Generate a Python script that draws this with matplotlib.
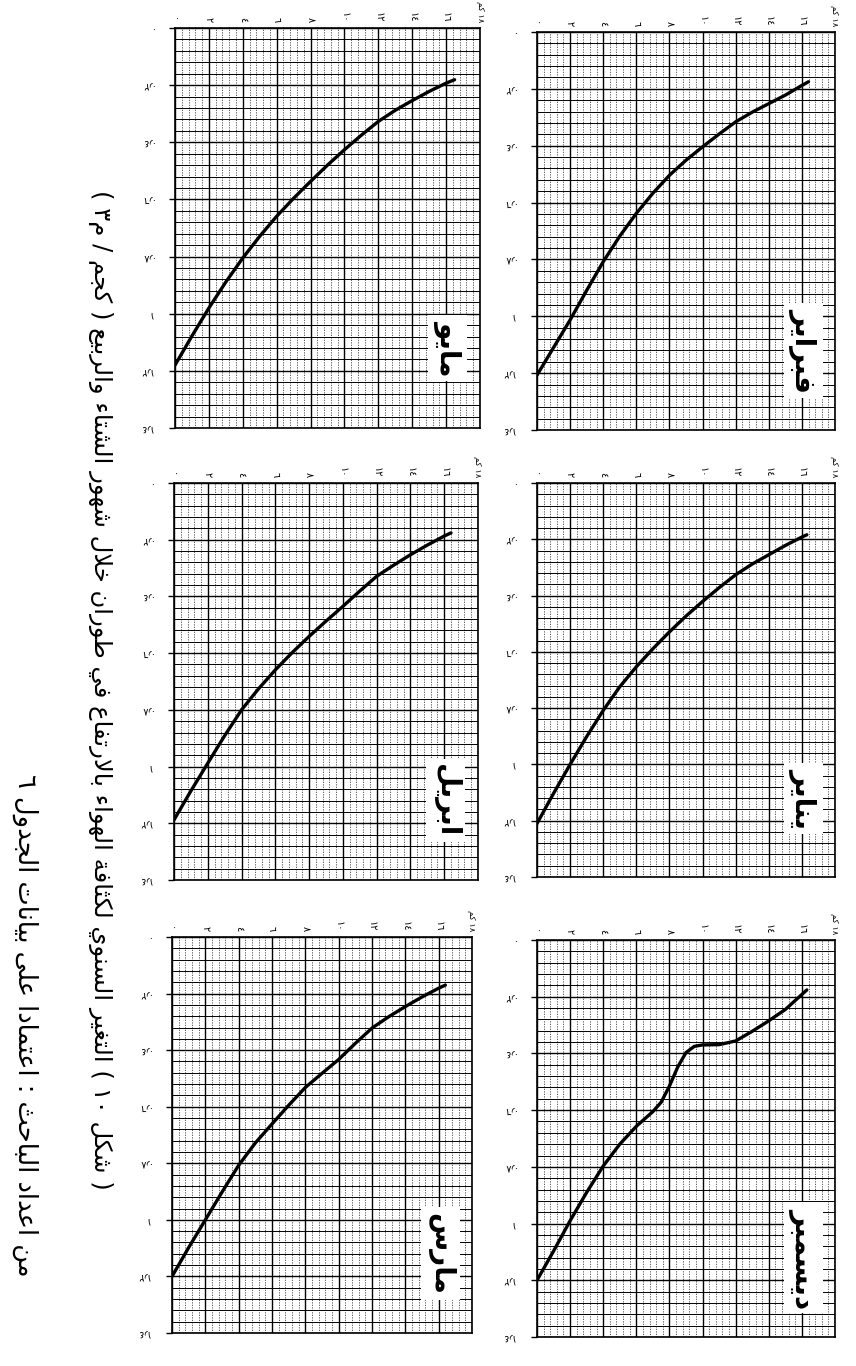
import matplotlib
matplotlib.use("Agg")
from matplotlib import pyplot as plt
from matplotlib.ticker import MultipleLocator

# Arabic shaping (presentation forms) so matplotlib draws joined letters
DUAL = {'ب': 0xFE8F, 'ت': 0xFE95, 'ث': 0xFE99, 'ج': 0xFE9D, 'ح': 0xFEA1, 'خ': 0xFEA5,
        'س': 0xFEB1, 'ش': 0xFEB5, 'ص': 0xFEB9, 'ض': 0xFEBD, 'ط': 0xFEC1, 'ظ': 0xFEC5,
        'ع': 0xFEC9, 'غ': 0xFECD, 'ف': 0xFED1, 'ق': 0xFED5, 'ك': 0xFED9, 'ل': 0xFEDD,
        'م': 0xFEE1, 'ن': 0xFEE5, 'ه': 0xFEE9, 'ي': 0xFEF1}
RIGHT = {'ا': 0xFE8D, 'أ': 0xFE83, 'إ': 0xFE87, 'آ': 0xFE81, 'ة': 0xFE93, 'د': 0xFEA9,
         'ذ': 0xFEAB, 'ر': 0xFEAD, 'ز': 0xFEAF, 'و': 0xFEED, 'ى': 0xFEEF}
LAM_ALEF = {'ا': 0xFEFB, 'أ': 0xFEF7, 'إ': 0xFEF9, 'آ': 0xFEF5}
DIGITS = set('٠١٢٣٤٥٦٧٨٩0123456789٫')


def shape(text):
    out = []
    i = 0
    while i < len(text):
        c = text[i]
        link_prev = i > 0 and text[i - 1] in DUAL
        if c == 'ل' and i + 1 < len(text) and text[i + 1] in LAM_ALEF:
            out.append(chr(LAM_ALEF[text[i + 1]] + (1 if link_prev else 0)))
            i += 2
            continue
        nxt = text[i + 1] if i + 1 < len(text) else ''
        if c in DUAL:
            link_next = nxt in DUAL or nxt in RIGHT
            out.append(chr(DUAL[c] + int(link_prev) + 2 * int(link_next)))
        elif c in RIGHT:
            out.append(chr(RIGHT[c] + (1 if link_prev else 0)))
        else:
            out.append(c)
        i += 1
    # visual order: reverse, keep digit runs left-to-right, mirror brackets
    runs = []
    for ch in out:
        isd = ch in DIGITS
        if runs and runs[-1][0] == isd:
            runs[-1][1].append(ch)
        else:
            runs.append([isd, [ch]])
    vis = ''
    for isd, chars in reversed(runs):
        if isd:
            vis += ''.join(chars)
        else:
            vis += ''.join({'(': ')', ')': '('}.get(ch, ch) for ch in reversed(chars))
    return vis


# Data: air density (kg/m3) against height (km) for each month
months = ['فبراير', 'يناير', 'ديسمبر', 'مايو', 'ابريل', 'مارس']

feb_alt = [0, 1, 2, 3, 4, 5, 6, 7, 8, 9, 10, 11, 12, 13, 14, 15, 16, 16.4]
feb_rho = [1.207, 1.110, 1.013, 0.909, 0.808, 0.718, 0.638, 0.567, 0.504, 0.451,
           0.404, 0.359, 0.316, 0.282, 0.252, 0.222, 0.188, 0.175]

jan_alt = [0, 1, 2, 3, 4, 5, 6, 7, 8, 9, 10, 11, 12, 13, 14, 15, 16, 16.3]
jan_rho = [1.21, 1.103, 1.0, 0.901, 0.808, 0.724, 0.653, 0.589, 0.529, 0.473,
           0.421, 0.372, 0.326, 0.288, 0.255, 0.222, 0.192, 0.184]

dec_alt = [0, 1, 2, 3, 4, 5, 6, 7, 7.5, 8, 8.5, 9, 9.5, 10, 11, 12, 13, 14, 15, 16, 16.3]
dec_rho = [1.2, 1.097, 0.99, 0.89, 0.797, 0.72, 0.657, 0.605, 0.572, 0.515, 0.448, 0.397,
           0.375, 0.37, 0.369, 0.356, 0.322, 0.285, 0.245, 0.192, 0.176]

may_alt = [0, 1, 2, 3, 4, 5, 6, 7, 8, 9, 10, 11, 12, 13, 14, 15, 16, 16.5]
may_rho = [1.18, 1.078, 0.98, 0.889, 0.805, 0.729, 0.659, 0.596, 0.537, 0.48,
           0.426, 0.375, 0.327, 0.288, 0.254, 0.222, 0.193, 0.181]

apr_alt = [0, 1, 2, 3, 4, 5, 6, 7, 8, 9, 10, 11, 12, 13, 14, 15, 16, 16.4]
apr_rho = [1.188, 1.086, 0.988, 0.891, 0.80, 0.726, 0.659, 0.598, 0.541, 0.487,
           0.435, 0.381, 0.329, 0.29, 0.253, 0.219, 0.187, 0.176]

mar_alt = [0, 1, 2, 3, 4, 5, 6, 7, 8, 9, 10, 11, 12, 13, 14, 15, 16, 16.4]
mar_rho = [1.2, 1.098, 1.0, 0.902, 0.807, 0.728, 0.661, 0.595, 0.532, 0.482,
           0.433, 0.376, 0.322, 0.282, 0.246, 0.212, 0.181, 0.17]

alt_ticks = [0, 2, 4, 6, 8, 10, 12, 14, 16, 18]
alt_labels = ['٠', '٢', '٤', '٦', '٨', '١٠', '١٢', '١٤', '١٦', shape('كم') + ' ١٨']
rho_ticks = [0, 0.2, 0.4, 0.6, 0.8, 1.0, 1.2, 1.4]
rho_labels = ['٠', '٠٫٢', '٠٫٤', '٠٫٦', '٠٫٨', '١', '١٫٢', '١٫٤']

title1 = '( شكل ١٠ ) التغير السنوي لكثافة الهواء بالارتفاع في طوران خلال شهور الشتاء والربيع ( كجم / م٣ )'
title2 = 'من اعداد الباحث : اعتمادا على بيانات الجدول ٦'

plt.rcParams['font.family'] = ['DejaVu Sans']

W, H = 856, 1366
fig = plt.figure(figsize=(W / 100, H / 100), dpi=100)

# panel boxes in pixels: x0, x1, y0, y1
boxes = [(537, 835, 32, 430), (537, 835, 483, 877), (537, 835, 940, 1337),
         (175, 480, 28, 428), (174, 478, 483, 880), (172, 472, 937, 1333)]
series = [(feb_alt, feb_rho), (jan_alt, jan_rho), (dec_alt, dec_rho),
          (may_alt, may_rho), (apr_alt, apr_rho), (mar_alt, mar_rho)]

for (x0, x1, y0, y1), (alt, rho), name in zip(boxes, series, months):
    ax = fig.add_axes([x0 / W, 1 - y1 / H, (x1 - x0) / W, (y1 - y0) / H])
    ax.set_xlim(0, 18)
    ax.set_ylim(1.4, 0)
    ax.xaxis.set_minor_locator(MultipleLocator(0.4))
    ax.yaxis.set_minor_locator(MultipleLocator(0.04))
    ax.grid(which='minor', axis='x', color='#444444', linestyle=(0, (1.5, 1.5)), linewidth=0.6)
    ax.grid(which='minor', axis='y', color='black', linewidth=0.7)
    ax.grid(which='major', color='black', linewidth=1.0)
    ax.xaxis.tick_top()
    ax.set_xticks(alt_ticks)
    ax.set_xticklabels(alt_labels, rotation=-90, fontsize=7)
    ax.get_xticklabels()[-1].set_fontsize(6)
    ax.set_yticks(rho_ticks)
    ax.set_yticklabels(rho_labels, rotation=180, fontsize=7, va='center')
    ax.tick_params(axis='x', length=0, pad=4)
    ax.tick_params(axis='y', length=4, width=1, pad=12)
    ax.tick_params(which='minor', length=0)
    for s in ax.spines.values():
        s.set_linewidth(1.2)
    ax.set_axisbelow(True)
    ax.plot(alt, rho, color='black', linewidth=2.4, solid_capstyle='round')
    ax.text(16.1, 1.12, shape(name), rotation=-90, ha='center', va='center',
            fontsize=20, fontweight='bold',
            bbox=dict(facecolor='white', edgecolor='none', pad=4))

fig.text(100 / W, 1 - 690 / H, shape(title1), rotation=-90, ha='center', va='center',
         fontsize=17.5)
fig.text(25 / W, 1 - 1025 / H, shape(title2), rotation=-90, ha='center', va='center',
         fontsize=18.5)

fig.savefig('out.png', dpi=100, facecolor='white')
